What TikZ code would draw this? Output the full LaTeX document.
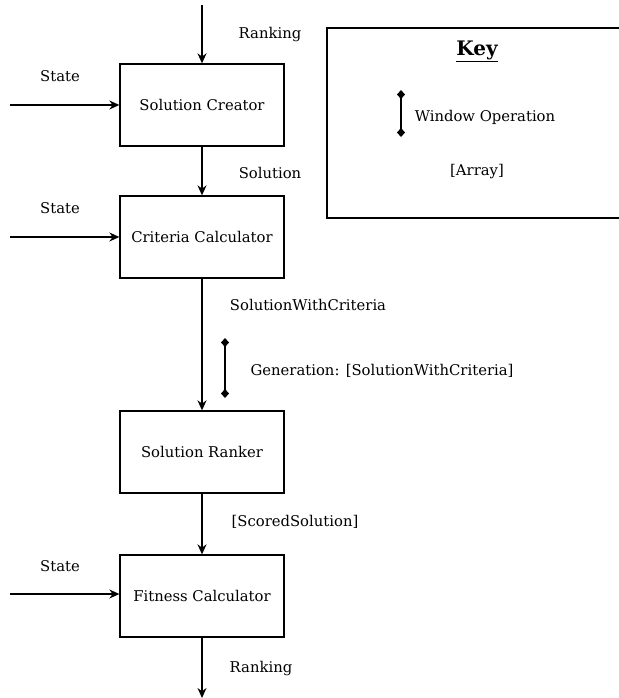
\documentclass[tikz,border=0pt]{standalone}
\usepackage{fontspec}
\setmainfont{DejaVu Serif}
\usetikzlibrary{arrows.meta}
\begin{document}
\begin{tikzpicture}[x=1pt,y=-1pt,
  font=\fontsize{14.8}{17}\selectfont,
  block/.style={draw,line width=1.3pt,minimum width=164pt,minimum height=82pt,inner sep=0pt},
  flow/.style={line width=1.4pt,-{Stealth[length=10pt,width=9pt]}},
  win/.style={line width=1.4pt,{Diamond[length=9pt,width=8pt]}-{Diamond[length=9pt,width=8pt]}},
  lbl/.style={inner sep=0pt}]
\useasboundingbox (0,0) rectangle (618,698);
\node[block] (sc) at (202,105) {Solution Creator};
\node[block] (cc) at (202,237) {Criteria Calculator};
\node[block] (sr) at (202,452) {Solution Ranker};
\node[block] (fc) at (202,596) {Fitness Calculator};
\coordinate (top) at (202,5);
\coordinate (bot) at (202,698);
\coordinate (s1) at (10,105);
\coordinate (s2) at (10,237);
\coordinate (s3) at (10,594);
\draw[flow] (top) -- (sc);
\draw[flow] (sc) -- (cc);
\draw[flow] (cc) -- (sr);
\draw[flow] (sr) -- (fc);
\draw[flow] (fc) -- (bot);
\draw[flow] (s1) -- (s1 -| sc.west);
\draw[flow] (s2) -- (s2 -| cc.west);
\draw[flow] (s3) -- (s3 -| fc.west);
\node[lbl] (l1) at (270,35) {Ranking};
\node[lbl] (l2) at (270,173) {Solution};
\node[lbl] (l3) at (308,305) {SolutionWithCriteria};
\node[lbl] (l4) at (295,522) {[ScoredSolution]};
\node[lbl] (l5) at (261,669) {Ranking};
\node[lbl] (st1) at (60,76) {State};
\node[lbl] (st2) at (60,208) {State};
\node[lbl] (st3) at (60,566) {State};
\coordinate (g1) at (225,338);
\coordinate (g2) at (225,398);
\draw[win] (g1) -- (g2);
\node[lbl] (gen) at (382,371) {Generation: [SolutionWithCriteria]};
% key
\draw[line width=1.3pt] (619,28) -- (327,28) -- (327,218) -- (619,218);
\node[lbl] (key) at (477,51) {\fontsize{20}{24}\selectfont\bfseries\underline{Key}};
\coordinate (k1) at (401,90);
\coordinate (k2) at (401,137);
\draw[win] (k1) -- (k2);
\node[lbl] (wo) at (485,117) {Window Operation};
\node[lbl] (arr) at (477,172) {[Array]};
\end{tikzpicture}
\end{document}
